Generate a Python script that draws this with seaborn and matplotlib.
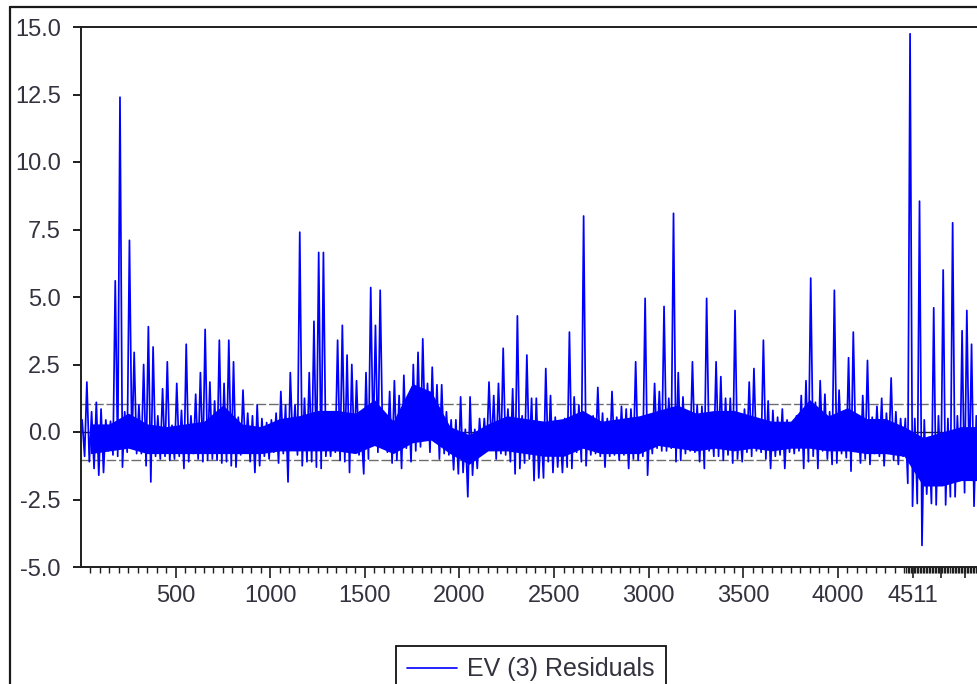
import numpy as np
import pandas as pd
import matplotlib
matplotlib.use("Agg")
import matplotlib.pyplot as plt
from matplotlib.lines import Line2D
from matplotlib.ticker import FixedLocator, FormatStrFormatter
import seaborn as sns

block_start = np.arange(0, 4750, 25)          # first observation of each block

block_high = [
    0.45, 1.85, 0.75, 1.1, 0.85, 0.45, 0.4, 5.6, 12.4, 0.75,
    7.1, 2.95, 1.0, 2.5, 3.9, 3.15, 0.6, 1.6, 2.6, 0.25,
    1.8, 0.8, 3.25, 0.6, 1.4, 2.2, 3.8, 1.85, 1.15, 3.4,
    1.8, 3.4, 2.6, 0.55, 1.55, 0.7, 0.6, 1.0, 0.5, 0.35,
    0.45, 0.7, 1.5, 1.0, 2.2, 1.0, 7.4, 1.25, 2.2, 4.1,
    6.65, 6.65, 0.6, 0.5, 3.4, 3.95, 2.85, 2.5, 1.9, 0.1,
    2.2, 5.35, 3.95, 5.25, 0.55, 1.5, 1.9, 1.35, 2.1, 1.25,
    2.5, 2.95, 3.45, 1.8, 2.4, 1.75, 1.75, 0.75, 0.45, 0.45,
    1.3, 0.1, 1.3, 0.1, 0.5, 0.5, 1.85, 1.35, 1.8, 3.1,
    0.85, 1.6, 4.3, 0.6, 2.85, 1.25, 1.25, 0.25, 2.35, 1.35,
    0.55, 0.25, 0.5, 3.7, 1.3, 1.0, 8.0, 0.6, 0.6, 1.65,
    0.7, 0.5, 1.5, 0.55, 0.95, 0.85, 0.85, 2.6, 0.45, 4.95,
    0.45, 1.8, 1.5, 4.65, 1.25, 8.1, 2.2, 1.3, 0.75, 2.6,
    1.0, 0.95, 4.95, 0.55, 2.6, 2.05, 1.25, 1.25, 4.5, 0.25,
    0.85, 1.85, 2.35, 0.45, 3.4, 1.15, 0.8, 0.55, 0.85, 0.45,
    0.35, 0.6, 1.35, 1.9, 5.7, 1.1, 1.9, 1.4, 0.75, 5.25,
    1.55, 0.75, 2.75, 3.7, 0.5, 1.35, 2.65, 0.55, 0.95, 1.25,
    0.7, 2.0, 0.75, 0.5, 0.5, 14.75, 0.5, 8.55, 0.45, -0.2,
    4.6, 0.6, 6.0, 0.5, 7.75, 0.6, 3.75, 4.5, 3.25, 0.6,
]

block_low = [
    -0.9, -1.1, -1.35, -1.6, -1.5, -0.7, -0.85, -0.9, -1.3, -0.75,
    -0.6, -0.8, -0.8, -1.25, -1.85, -0.9, -1.0, -0.9, -1.05, -1.0,
    -0.9, -1.35, -1.1, -0.8, -1.0, -1.1, -1.05, -1.0, -1.05, -1.15,
    -1.1, -1.25, -1.3, -0.85, -0.75, -1.1, -1.5, -1.25, -0.9, -1.0,
    -0.75, -1.15, -0.8, -1.85, -0.5, -0.85, -1.25, -1.1, -1.1, -1.3,
    -1.35, -0.9, -0.9, -0.75, -1.05, -1.1, -1.5, -0.75, -0.85, -1.55,
    -1.0, -0.5, -0.75, -0.35, -0.75, -1.15, -1.05, -1.35, -0.6, -1.1,
    -0.7, -0.55, -0.25, -0.75, -0.35, -1.0, -0.8, -0.85, -1.4, -1.55,
    -1.5, -2.4, -1.6, -1.35, -0.75, -0.7, -0.6, -1.0, -0.8, -0.85,
    -1.1, -1.55, -1.35, -1.15, -1.0, -1.8, -1.7, -1.7, -1.1, -1.5,
    -1.3, -1.5, -1.3, -1.35, -0.75, -1.1, -1.25, -0.85, -0.8, -0.9,
    -1.3, -0.9, -0.85, -1.05, -0.85, -1.35, -1.0, -1.05, -0.9, -1.6,
    -0.8, -0.6, -0.7, -0.7, -0.6, -1.1, -1.05, -0.8, -0.7, -0.75,
    -1.1, -1.35, -0.7, -0.9, -0.9, -1.05, -0.85, -1.15, -1.0, -1.1,
    -0.75, -0.9, -0.7, -0.75, -1.0, -1.35, -0.9, -0.85, -1.35, -0.75,
    -0.8, -0.7, -1.35, -1.1, -0.9, -1.35, -0.7, -1.0, -1.2, -1.15,
    -0.8, -0.95, -1.45, -0.65, -1.15, -1.0, -1.2, -0.8, -0.9, -1.25,
    -0.75, -1.05, -1.2, -0.9, -1.9, -2.75, -2.65, -4.2, -2.3, -2.65,
    -2.7, -1.9, -2.7, -2.4, -2.4, -1.8, -2.25, -1.5, -2.75, -2.2,
]

# dense (solid) core of the residual band, per block of 100 observations
core_start = np.arange(0, 4800, 100)
core_high = [
    0.3, 0.3, 0.7, 0.3, 0.2, 0.3, 0.4, 1.0, 0.3, 0.2,
    0.5, 0.6, 0.8, 0.8, 0.7, 1.2, 0.4, 1.8, 1.5, 0.2,
    -0.1, 0.3, 0.6, 0.5, 0.4, 0.5, 0.8, 0.4, 0.5, 0.6,
    0.8, 1.0, 0.7, 0.8, 0.8, 0.6, 0.4, 0.4, 1.2, 0.6,
    0.9, 0.5, 0.5, 0.2, -0.2, 0.0, 0.2, 0.2,
]
core_low = [
    -0.8, -0.7, -0.6, -0.8, -0.8, -0.8, -0.8, -0.8, -0.8, -0.8,
    -0.7, -0.7, -0.7, -0.7, -0.8, -0.5, -0.8, -0.4, -0.3, -0.8,
    -1.2, -0.7, -0.7, -0.8, -0.9, -0.9, -0.6, -0.8, -0.8, -0.8,
    -0.5, -0.6, -0.7, -0.6, -0.7, -0.6, -0.7, -0.6, -0.6, -0.7,
    -0.7, -0.8, -0.8, -0.9, -2.0, -2.0, -1.8, -1.8,
]

std_error = 1.03                      # +/- 1 S.E. reference lines
series_label = "EV (3) Residuals"

y_ticks = [-5.0, -2.5, 0.0, 2.5, 5.0, 7.5, 10.0, 12.5, 15.0]
x_tick_pos = [500, 1000, 1500, 2000, 2500, 3000, 3500, 4000, 4398, 4545, 4671]
x_tick_labels = ["500", "1000", "1500", "2000", "2500", "3000", "3500", "4000", "4511", "", ""]

# ---- tables built from the arrays ----
df = pd.DataFrame({
    "obs": np.column_stack([block_start + 6, block_start + 19]).ravel(),
    "resid": np.column_stack([block_high, block_low]).ravel(),
})
core_df = pd.DataFrame({
    "obs": np.concatenate([core_start + 50, core_start + 50]),
    "resid": np.concatenate([core_high, core_low]),
})

# ---- styling ----
sns.set_theme(style="white")
plt.rcParams["font.family"] = ["Liberation Sans", "DejaVu Sans"]
plt.rcParams["axes.unicode_minus"] = False
text_color = "#34323e"
axis_color = "#1e1e1e"
blue = "#0000ff"

W, H = 978, 684
fig = plt.figure(figsize=(W / 100, H / 100), dpi=100, facecolor="white")
ax = fig.add_axes([81 / W, 1 - 567 / H, (W - 81) / W, (567 - 27) / H])
ax.set_facecolor("white")

# reference lines (beneath the series)
ax.axhline(0, color="#222222", lw=1.0, zorder=1)
ax.axhline(std_error, color="#6e6e6e", lw=1.0, ls=(0, (7, 2)), zorder=1)
ax.axhline(-std_error, color="#6e6e6e", lw=1.0, ls=(0, (7, 2)), zorder=1)

# solid core of the band (min..max range of the core readings)
sns.lineplot(data=core_df, x="obs", y="resid", ax=ax, color=blue,
             estimator="mean", errorbar=("pi", 100), linewidth=0,
             err_kws={"alpha": 1, "linewidth": 0}, legend=False, zorder=2)

sns.lineplot(data=df, x="obs", y="resid", ax=ax, color=blue,
             linewidth=1.25, estimator=None, label=series_label, zorder=3)

ax.set_xlim(0, 4740)
ax.set_ylim(-5, 15)
ax.set_xlabel("")
ax.set_ylabel("")

ax.yaxis.set_major_locator(FixedLocator(y_ticks))
ax.yaxis.set_major_formatter(FormatStrFormatter("%.1f"))
ax.set_xticks(x_tick_pos)
ax.set_xticklabels(x_tick_labels)
minor = list(range(50, 4351, 50)) + list(range(4360, 4741, 8))
ax.xaxis.set_minor_locator(FixedLocator(minor))

ax.tick_params(axis="y", which="major", direction="out", length=6, width=1.4,
               color=axis_color, labelsize=17, labelcolor=text_color, pad=8.5, left=True)
ax.tick_params(axis="x", which="major", direction="out", length=8, width=1.2,
               color=axis_color, labelsize=17, labelcolor=text_color, pad=5, bottom=True)
ax.tick_params(axis="x", which="minor", direction="out", length=4, width=1.0,
               color=axis_color, bottom=True)

for side in ["left", "bottom", "top"]:
    ax.spines[side].set_color(axis_color)
    ax.spines[side].set_linewidth(1.4)
ax.spines["right"].set_visible(False)

handles, labels = ax.get_legend_handles_labels()
leg = ax.legend(handles[-1:], labels[-1:], loc="upper center",
                bbox_to_anchor=(531 / W, 1 - 646 / H),
                bbox_transform=fig.transFigure, frameon=True, fancybox=False,
                fontsize=18, handlelength=2.0, handletextpad=0.4,
                borderpad=0.45, borderaxespad=0, labelcolor=text_color)
leg.get_frame().set_edgecolor("#111111")
leg.get_frame().set_linewidth(1.3)
leg.get_frame().set_facecolor("white")
leg.get_frame().set_alpha(1)
for h in leg.get_lines():
    h.set_linewidth(1.2)

# outer graph frame (left and top edges visible)
fig.add_artist(Line2D([10 / W, 10 / W], [0, 1 - 7 / H], transform=fig.transFigure,
                      color="#1a1a1a", lw=1.6))
fig.add_artist(Line2D([10 / W, 1], [1 - 7 / H, 1 - 7 / H], transform=fig.transFigure,
                      color="#1a1a1a", lw=1.6))

fig.savefig("out.png", dpi=100, facecolor="white")
